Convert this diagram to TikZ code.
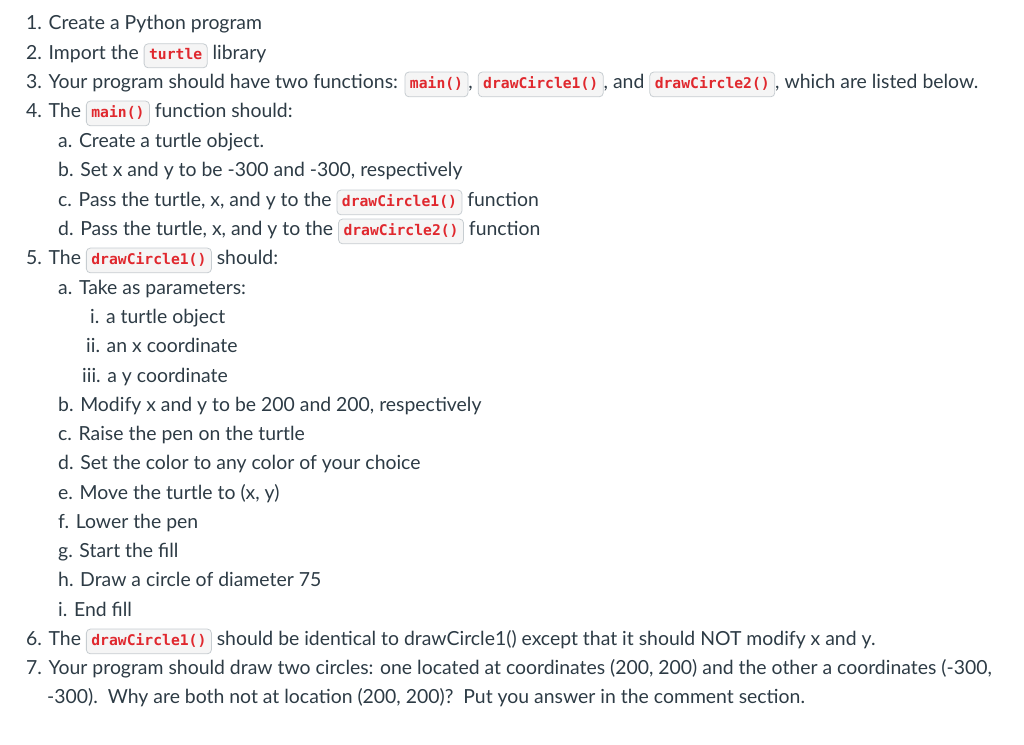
\documentclass[tikz,border=0pt]{standalone}
\usepackage{fontspec}
\setmainfont{Lato}
\setmonofont{DejaVu Sans Mono}
\definecolor{txt}{HTML}{2D3B45}
\definecolor{cred}{HTML}{E0282E}
\definecolor{chipbg}{HTML}{F5F5F5}
\definecolor{chipbd}{HTML}{C7CDD1}
\newcommand{\chip}[1]{\tikz[baseline=(c.base)]\node(c)[draw=chipbd,fill=chipbg,rounded corners=4pt,inner xsep=5pt,inner ysep=4pt,line width=0.8pt,text=cred,font=\ttfamily\bfseries\fontsize{14.7}{16}\selectfont]{\strut #1};}
\tikzset{ln/.style={anchor=base west,inner sep=0pt,text=txt,font=\fontsize{19.4}{22}\selectfont}}
\begin{document}
\begin{tikzpicture}[x=1pt,y=-1pt]
\useasboundingbox (0,0) rectangle (1024,744);
\node[ln] (l1) at (26,29) {1. Create a Python program};
\node[ln] (l2) at (26,59) {2. Import the \chip{turtle} library};
\node[ln] (l3) at (26,88) {3. Your program should have two functions: \chip{main()}, \chip{drawCircle1()}, and \chip{drawCircle2()}, which are listed below.};
\node[ln] (l4) at (26,117) {4. The \chip{main()} function should:};
\node[ln] (l4a) at (58,147) {a. Create a turtle object.};
\node[ln] (l4b) at (58,176) {b. Set x and y to be -300 and -300, respectively};
\node[ln] (l4c) at (58,206) {c. Pass the turtle, x, and y to the \chip{drawCircle1()} function};
\node[ln] (l4d) at (58,235) {d. Pass the turtle, x, and y to the \chip{drawCircle2()} function};
\node[ln] (l5) at (26,264) {5. The \chip{drawCircle1()} should:};
\node[ln] (l5a) at (58,294) {a. Take as parameters:};
\node[ln] (l5ai) at (90,323) {i. a turtle object};
\node[ln] (l5aii) at (86,352) {ii. an x coordinate};
\node[ln] (l5aiii) at (82,382) {iii. a y coordinate};
\node[ln] (l5b) at (58,411) {b. Modify x and y to be 200 and 200, respectively};
\node[ln] (l5c) at (58,440) {c. Raise the pen on the turtle};
\node[ln] (l5d) at (58,469) {d. Set the color to any color of your choice};
\node[ln] (l5e) at (58,499) {e. Move the turtle to (x, y)};
\node[ln] (l5f) at (58,528) {f. Lower the pen};
\node[ln] (l5g) at (58,557) {g. Start the fill};
\node[ln] (l5h) at (58,586) {h. Draw a circle of diameter 75};
\node[ln] (l5i) at (58,616) {i. End fill};
\node[ln] (l6) at (26,645) {6. The \chip{drawCircle1()} should be identical to drawCircle1() except that it should NOT modify x and y.};
\node[ln] (l7) at (26,674) {7. Your program should draw two circles: one located at coordinates (200, 200) and the other a coordinates (-300,};
\node[ln] (l7b) at (47,703) {-300).\ \ Why are both not at location (200, 200)?\ \ Put you answer in the comment section.};
\end{tikzpicture}
\end{document}
